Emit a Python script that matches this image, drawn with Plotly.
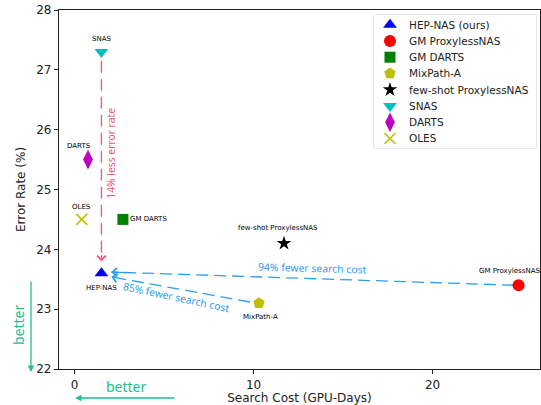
import plotly.graph_objects as go

# ---------------- data ----------------
methods = ["HEP-NAS (ours)", "GM ProxylessNAS", "GM DARTS", "MixPath-A",
           "few-shot ProxylessNAS", "SNAS", "DARTS", "OLES"]
point_labels = ["HEP-NAS", "GM ProxylessNAS", "GM DARTS", "MixPath-A",
                "few-shot ProxylessNAS", "SNAS", "DARTS", "OLES"]
search_cost = [1.5, 24.8, 2.7, 10.3, 11.7, 1.5, 0.75, 0.4]
error_rate = [23.6, 23.4, 24.5, 23.1, 24.1, 27.3, 25.5, 24.5]
x_ticks = [0, 10, 20]
y_ticks = [22, 23, 24, 25, 26, 27, 28]

# ---------------- styles ----------------
symbols = ["triangle-up", "circle", "square", "pentagon", "star",
           "triangle-down", "diamond-tall", "x-thin-open"]
colors = ["#0000ff", "#ff0000", "#008000", "#bfbf00", "#000000",
          "#00bfbf", "#bf00bf", "#bfbf00"]
sizes = [12, 12, 11, 12, 11, 12, 14, 11]
# label offsets in pixels (dx, dy) relative to the marker
label_off = [(0, -15), (-9, 14), (26, 0), (2, -14), (-6, 15), (0, 13), (-9, 14), (0, 12)]

PINK = "#f2557e"
BLUE = "#2b9df4"
GREEN = "#20c08e"
FONT = "DejaVu Sans"
TFONT = "Noto Sans"

W, H = 541, 405
L, R, T, B = 59, 1, 10, 36
pw, ph = W - L - R, H - T - B


def px(xp):
    return (xp - L) / pw


def py(yp):
    return (H - B - yp) / ph


fig = go.Figure()

idx = {m: i for i, m in enumerate(point_labels)}
hep = idx["HEP-NAS"]
snas = idx["SNAS"]
gmp = idx["GM ProxylessNAS"]
mix = idx["MixPath-A"]


def dashed(x0, y0, x1, y1, color):
    fig.add_trace(go.Scatter(x=[x0, x1], y=[y0, y1], mode="lines",
                             line=dict(color=color, width=1.3, dash="12px,6px"),
                             showlegend=False, hoverinfo="skip"))


pink_start = (search_cost[snas], error_rate[snas] - 0.15)
pink_end = (search_cost[hep], error_rate[hep] + 0.2)
blue1_start = (search_cost[gmp] - 0.25, error_rate[gmp])
blue1_end = (search_cost[hep] + 0.55, error_rate[hep] + 0.02)
blue2_start = (search_cost[mix] - 0.5, error_rate[mix] + 0.02)
blue2_end = (search_cost[hep] + 0.55, error_rate[hep] - 0.06)

dashed(*pink_start, *pink_end, PINK)
dashed(*blue1_start, *blue1_end, BLUE)
dashed(*blue2_start, *blue2_end, BLUE)


def marker_style(i):
    mk = dict(symbol=symbols[i], size=sizes[i], color=colors[i])
    if symbols[i].endswith("open"):
        mk["line"] = dict(color=colors[i], width=1.6)
    else:
        mk["line"] = dict(width=0)
    return mk


for i, m in enumerate(methods):
    fig.add_trace(go.Scatter(x=[search_cost[i]], y=[error_rate[i]], mode="markers",
                             marker=marker_style(i), name=m, showlegend=False))

annotations = []
for i, lab in enumerate(point_labels):
    dx, dy = label_off[i]
    annotations.append(dict(x=search_cost[i], y=error_rate[i], xref="x", yref="y",
                            text=lab, showarrow=False, xshift=dx, yshift=dy,
                            font=dict(family=FONT, size=7, color="black")))


def head(end, start, color):
    ex, ey = end
    sx, sy = start
    annotations.append(dict(x=ex, y=ey, ax=ex + (sx - ex) * 0.04, ay=ey + (sy - ey) * 0.04,
                            xref="x", yref="y", axref="x", ayref="y", text="",
                            showarrow=True, arrowhead=4, arrowsize=1.3, arrowwidth=1.3,
                            arrowcolor=color))


head(pink_end, pink_start, PINK)
head(blue1_end, blue1_start, BLUE)
head(blue2_end, blue2_start, BLUE)

annotations.append(dict(x=search_cost[snas] + 0.54, y=25.6, xref="x", yref="y",
                        text="14% less error rate", textangle=-90, showarrow=False,
                        xanchor="center", yanchor="middle",
                        font=dict(family=TFONT, size=10.3, color=PINK)))
annotations.append(dict(x=13.27, y=23.69, xref="x", yref="y",
                        text="94% fewer search cost", textangle=1.5, showarrow=False,
                        xanchor="center", yanchor="middle",
                        font=dict(family=TFONT, size=10.4, color=BLUE)))
annotations.append(dict(x=5.67, y=23.2, xref="x", yref="y",
                        text="85% fewer search cost", textangle=12, showarrow=False,
                        xanchor="center", yanchor="middle",
                        font=dict(family=TFONT, size=10.4, color=BLUE)))

# "better" arrows outside the axes
annotations.append(dict(x=px(31), y=py(372), ax=0, ay=-92, xref="paper", yref="paper",
                        axref="pixel", ayref="pixel", text="", showarrow=True,
                        arrowhead=2, arrowsize=1, arrowwidth=1.3, arrowcolor=GREEN))
annotations.append(dict(x=px(18), y=py(325), xref="paper", yref="paper", text="better",
                        textangle=-90, showarrow=False, xanchor="center", yanchor="middle",
                        font=dict(family=TFONT, size=14, color=GREEN)))
annotations.append(dict(x=px(75), y=py(398), ax=101, ay=0, xref="paper", yref="paper",
                        axref="pixel", ayref="pixel", text="", showarrow=True,
                        arrowhead=2, arrowsize=1, arrowwidth=1.3, arrowcolor=GREEN))
annotations.append(dict(x=px(126), y=py(386), xref="paper", yref="paper", text="better",
                        showarrow=False, xanchor="center", yanchor="middle",
                        font=dict(family=TFONT, size=14, color=GREEN)))

# ---------------- custom legend (pixel-space overlay axes) ----------------
LG_X0, LG_X1, LG_Y0, LG_Y1 = 374, 536, 15, 148
row0, row_h = 24.7, 16.25
mk_x, txt_x = 390, 407
shapes = [dict(type="rect", xref="paper", yref="paper",
               x0=px(LG_X0), x1=px(LG_X1), y0=py(LG_Y1), y1=py(LG_Y0),
               line=dict(color="#d4d4d4", width=1), fillcolor="white", layer="below")]
for i, m in enumerate(methods):
    yy = row0 + row_h * i
    fig.add_trace(go.Scatter(x=[mk_x], y=[yy], xaxis="x2", yaxis="y2", mode="markers",
                             marker=marker_style(i), showlegend=False, hoverinfo="skip"))
    annotations.append(dict(x=txt_x, y=yy, xref="x2", yref="y2", text=m, showarrow=False,
                            xanchor="left", yanchor="middle",
                            font=dict(family=FONT, size=10.5, color="#222")))

axis_common = dict(showline=True, linecolor="#222", linewidth=1.2, mirror=True,
                   ticks="outside", ticklen=4, tickcolor="#222", showgrid=False,
                   zeroline=False, tickfont=dict(family=FONT, size=12, color="#222"))

fig.update_layout(
    width=W, height=H,
    margin=dict(l=L, r=R, t=T, b=B, autoexpand=False),
    plot_bgcolor="white", paper_bgcolor="white",
    xaxis=dict(range=[-0.87, 26.0], tickvals=x_ticks,
               title=dict(text="Search Cost (GPU-Days)", standoff=4,
                          font=dict(family=FONT, size=12, color="#222")),
               **axis_common),
    yaxis=dict(range=[22, 28], tickvals=y_ticks,
               title=dict(text="Error Rate (%)", standoff=8,
                          font=dict(family=FONT, size=12, color="#222")),
               **axis_common),
    xaxis2=dict(domain=[px(LG_X0), px(LG_X1)], range=[LG_X0, LG_X1], anchor="y2",
                visible=False, fixedrange=True),
    yaxis2=dict(domain=[py(LG_Y1), py(LG_Y0)], range=[LG_Y1, LG_Y0], anchor="x2",
                visible=False, fixedrange=True),
    annotations=annotations,
    shapes=shapes,
    showlegend=False,
)

fig.write_html("out.html", config={"displayModeBar": False},
               post_script="document.body.style.margin='0';document.body.style.padding='0';")
